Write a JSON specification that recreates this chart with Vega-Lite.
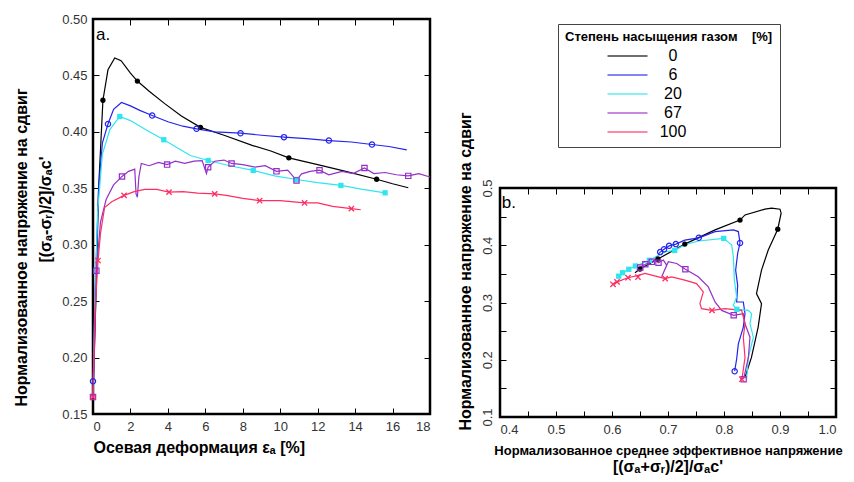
{
"$schema":"https://vega.github.io/schema/vega-lite/v6.json",
"background":"white",
"padding":{"left":11,"top":11,"right":0,"bottom":0},
"bounds":"flush",
"spacing":70,
"resolve":{"legend":{"color":"independent"}},
"config":{
 "font":"Liberation Sans",
 "axis":{"domain":false,"grid":false,"ticks":true,"tickSize":-6,"tickColor":"black","tickWidth":1,"labelFont":"Liberation Sans","labelFontSize":13,"labelColor":"#333333","labelPadding":12,"titleFont":"Liberation Sans","titleFontWeight":"bold","titleColor":"black","titleFontSize":16}
},
"datasets":{
"a":[
{"s":"0","x":0,"y":0.165},{"s":"0","x":0.15,"y":0.25},{"s":"0","x":0.3,"y":0.35},{"s":"0","x":0.53,"y":0.428},{"s":"0","x":0.8,"y":0.455},{"s":"0","x":1.16,"y":0.4655},{"s":"0","x":1.5,"y":0.463},{"s":"0","x":2.0,"y":0.452},{"s":"0","x":2.37,"y":0.445},{"s":"0","x":3.0,"y":0.436},{"s":"0","x":3.83,"y":0.425},{"s":"0","x":4.72,"y":0.414},{"s":"0","x":5.74,"y":0.404},{"s":"0","x":7.0,"y":0.397},{"s":"0","x":8.5,"y":0.388},{"s":"0","x":9.5,"y":0.383},{"s":"0","x":10.46,"y":0.377},{"s":"0","x":12.0,"y":0.371},{"s":"0","x":13.5,"y":0.365},{"s":"0","x":15.15,"y":0.358},{"s":"0","x":16.0,"y":0.354},{"s":"0","x":16.84,"y":0.3505},
{"s":"6","x":0,"y":0.179},{"s":"6","x":0.1,"y":0.25},{"s":"6","x":0.3,"y":0.35},{"s":"6","x":0.5,"y":0.39},{"s":"6","x":0.8,"y":0.407},{"s":"6","x":1.1,"y":0.42},{"s":"6","x":1.52,"y":0.426},{"s":"6","x":2.0,"y":0.423},{"s":"6","x":2.5,"y":0.419},{"s":"6","x":3.16,"y":0.4145},{"s":"6","x":4.0,"y":0.409},{"s":"6","x":4.8,"y":0.405},{"s":"6","x":5.53,"y":0.4027},{"s":"6","x":6.5,"y":0.4},{"s":"6","x":7.88,"y":0.3988},{"s":"6","x":9.0,"y":0.397},{"s":"6","x":10.2,"y":0.3953},{"s":"6","x":11.4,"y":0.394},{"s":"6","x":12.6,"y":0.3923},{"s":"6","x":13.8,"y":0.391},{"s":"6","x":14.9,"y":0.3888},{"s":"6","x":15.8,"y":0.387},{"s":"6","x":16.76,"y":0.384},
{"s":"20","x":0,"y":0.165},{"s":"20","x":0.1,"y":0.25},{"s":"20","x":0.25,"y":0.33},{"s":"20","x":0.5,"y":0.38},{"s":"20","x":0.9,"y":0.402},{"s":"20","x":1.43,"y":0.4136},{"s":"20","x":2.0,"y":0.41},{"s":"20","x":2.8,"y":0.402},{"s":"20","x":3.78,"y":0.393},{"s":"20","x":4.5,"y":0.386},{"s":"20","x":5.2,"y":0.379},{"s":"20","x":6.15,"y":0.3746},{"s":"20","x":7.3,"y":0.37},{"s":"20","x":8.56,"y":0.3658},{"s":"20","x":9.7,"y":0.361},{"s":"20","x":10.87,"y":0.3578},{"s":"20","x":12.0,"y":0.355},{"s":"20","x":13.24,"y":0.3525},{"s":"20","x":14.4,"y":0.349},{"s":"20","x":15.6,"y":0.346},
{"s":"67","x":0,"y":0.165},{"s":"67","x":0.1,"y":0.22},{"s":"67","x":0.18,"y":0.277},{"s":"67","x":0.4,"y":0.32},{"s":"67","x":0.7,"y":0.34},{"s":"67","x":1.1,"y":0.353},{"s":"67","x":1.55,"y":0.3605},{"s":"67","x":1.9,"y":0.365},{"s":"67","x":2.23,"y":0.367},{"s":"67","x":2.3,"y":0.345},{"s":"67","x":2.37,"y":0.342},{"s":"67","x":2.45,"y":0.36},{"s":"67","x":2.58,"y":0.372},{"s":"67","x":3.0,"y":0.37},{"s":"67","x":3.5,"y":0.373},{"s":"67","x":3.96,"y":0.371},{"s":"67","x":4.4,"y":0.374},{"s":"67","x":4.9,"y":0.372},{"s":"67","x":5.4,"y":0.374},{"s":"67","x":5.83,"y":0.3745},{"s":"67","x":6.06,"y":0.363},{"s":"67","x":6.15,"y":0.3687},{"s":"67","x":6.5,"y":0.374},{"s":"67","x":7.0,"y":0.375},{"s":"67","x":7.4,"y":0.372},{"s":"67","x":8.0,"y":0.371},{"s":"67","x":8.65,"y":0.3687},{"s":"67","x":9.2,"y":0.37},{"s":"67","x":9.8,"y":0.365},{"s":"67","x":10.4,"y":0.366},{"s":"67","x":10.87,"y":0.357},{"s":"67","x":11.14,"y":0.3628},{"s":"67","x":11.6,"y":0.365},{"s":"67","x":12.1,"y":0.366},{"s":"67","x":12.6,"y":0.362},{"s":"67","x":13.3,"y":0.365},{"s":"67","x":13.9,"y":0.363},{"s":"67","x":14.5,"y":0.368},{"s":"67","x":15.0,"y":0.363},{"s":"67","x":15.6,"y":0.364},{"s":"67","x":16.2,"y":0.362},{"s":"67","x":16.84,"y":0.361},{"s":"67","x":17.4,"y":0.363},{"s":"67","x":18.0,"y":0.36},
{"s":"100","x":0,"y":0.165},{"s":"100","x":0.1,"y":0.24},{"s":"100","x":0.27,"y":0.286},{"s":"100","x":0.4,"y":0.31},{"s":"100","x":0.62,"y":0.333},{"s":"100","x":1.0,"y":0.338},{"s":"100","x":1.66,"y":0.3437},{"s":"100","x":2.2,"y":0.347},{"s":"100","x":2.76,"y":0.349},{"s":"100","x":3.4,"y":0.349},{"s":"100","x":4.06,"y":0.3466},{"s":"100","x":4.8,"y":0.347},{"s":"100","x":5.6,"y":0.3457},{"s":"100","x":6.5,"y":0.345},{"s":"100","x":7.2,"y":0.3435},{"s":"100","x":8.0,"y":0.341},{"s":"100","x":8.9,"y":0.339},{"s":"100","x":10.0,"y":0.339},{"s":"100","x":11.3,"y":0.337},{"s":"100","x":12.0,"y":0.337},{"s":"100","x":12.8,"y":0.334},{"s":"100","x":13.8,"y":0.332},{"s":"100","x":14.3,"y":0.331}
],
"am":[
{"s":"0","x":0.53,"y":0.428},{"s":"0","x":2.37,"y":0.445},{"s":"0","x":5.74,"y":0.404},{"s":"0","x":10.46,"y":0.377},{"s":"0","x":15.15,"y":0.358},
{"s":"6","x":0,"y":0.179},{"s":"6","x":0.8,"y":0.407},{"s":"6","x":3.16,"y":0.4145},{"s":"6","x":5.53,"y":0.4027},{"s":"6","x":7.88,"y":0.3988},{"s":"6","x":10.2,"y":0.3953},{"s":"6","x":12.6,"y":0.3923},{"s":"6","x":14.9,"y":0.3888},
{"s":"20","x":1.43,"y":0.4136},{"s":"20","x":3.78,"y":0.393},{"s":"20","x":6.15,"y":0.3746},{"s":"20","x":8.56,"y":0.3658},{"s":"20","x":10.87,"y":0.3578},{"s":"20","x":13.24,"y":0.3525},{"s":"20","x":15.6,"y":0.346},
{"s":"67","x":0,"y":0.165},{"s":"67","x":0.18,"y":0.277},{"s":"67","x":1.55,"y":0.3605},{"s":"67","x":3.96,"y":0.371},{"s":"67","x":6.15,"y":0.3687},{"s":"67","x":7.4,"y":0.372},{"s":"67","x":9.8,"y":0.365},{"s":"67","x":10.87,"y":0.357},{"s":"67","x":12.1,"y":0.366},{"s":"67","x":14.5,"y":0.368},{"s":"67","x":16.84,"y":0.361},
{"s":"100","x":0,"y":0.165},{"s":"100","x":0.27,"y":0.286},{"s":"100","x":1.66,"y":0.3437},{"s":"100","x":4.06,"y":0.3466},{"s":"100","x":6.5,"y":0.345},{"s":"100","x":8.9,"y":0.339},{"s":"100","x":11.3,"y":0.337},{"s":"100","x":13.8,"y":0.332}
],
"b":[
{"s":"0","i":1,"x":0.8375,"y":0.169},{"s":"0","i":2,"x":0.849,"y":0.204},{"s":"0","i":3,"x":0.861,"y":0.257},{"s":"0","i":4,"x":0.867,"y":0.298},{"s":"0","i":5,"x":0.858,"y":0.3155},{"s":"0","i":6,"x":0.867,"y":0.3565},{"s":"0","i":7,"x":0.879,"y":0.3917},{"s":"0","i":8,"x":0.896,"y":0.428},{"s":"0","i":9,"x":0.902,"y":0.456},{"s":"0","i":10,"x":0.9,"y":0.463},{"s":"0","i":11,"x":0.885,"y":0.465},{"s":"0","i":12,"x":0.873,"y":0.463},{"s":"0","i":13,"x":0.8375,"y":0.453},{"s":"0","i":14,"x":0.8286,"y":0.444},{"s":"0","i":15,"x":0.784,"y":0.4268},{"s":"0","i":16,"x":0.73,"y":0.402},{"s":"0","i":17,"x":0.682,"y":0.376},{"s":"0","i":18,"x":0.65,"y":0.3585},{"s":"0","i":19,"x":0.641,"y":0.352},
{"s":"6","i":1,"x":0.819,"y":0.18},{"s":"6","i":2,"x":0.8226,"y":0.2013},{"s":"6","i":3,"x":0.8256,"y":0.2277},{"s":"6","i":4,"x":0.8345,"y":0.257},{"s":"6","i":5,"x":0.8375,"y":0.2804},{"s":"6","i":6,"x":0.8345,"y":0.3009},{"s":"6","i":7,"x":0.8226,"y":0.3009},{"s":"6","i":8,"x":0.8244,"y":0.33},{"s":"6","i":9,"x":0.8208,"y":0.3565},{"s":"6","i":10,"x":0.8244,"y":0.3858},{"s":"6","i":11,"x":0.8286,"y":0.404},{"s":"6","i":12,"x":0.8256,"y":0.4239},{"s":"6","i":13,"x":0.8167,"y":0.4268},{"s":"6","i":14,"x":0.784,"y":0.4239},{"s":"6","i":15,"x":0.755,"y":0.413},{"s":"6","i":16,"x":0.73,"y":0.409},{"s":"6","i":17,"x":0.714,"y":0.402},{"s":"6","i":18,"x":0.702,"y":0.399},{"s":"6","i":19,"x":0.693,"y":0.393},{"s":"6","i":20,"x":0.686,"y":0.388},{"s":"6","i":21,"x":0.683,"y":0.385},
{"s":"20","i":1,"x":0.8405,"y":0.1668},{"s":"20","i":2,"x":0.8435,"y":0.2043},{"s":"20","i":3,"x":0.8524,"y":0.2394},{"s":"20","i":4,"x":0.8464,"y":0.2628},{"s":"20","i":5,"x":0.8494,"y":0.2804},{"s":"20","i":6,"x":0.8435,"y":0.2862},{"s":"20","i":7,"x":0.823,"y":0.288},{"s":"20","i":8,"x":0.8167,"y":0.295},{"s":"20","i":9,"x":0.8226,"y":0.3097},{"s":"20","i":10,"x":0.8185,"y":0.339},{"s":"20","i":11,"x":0.8167,"y":0.38},{"s":"20","i":12,"x":0.8137,"y":0.4004},{"s":"20","i":13,"x":0.7995,"y":0.412},{"s":"20","i":14,"x":0.755,"y":0.4074},{"s":"20","i":15,"x":0.73,"y":0.401},{"s":"20","i":16,"x":0.712,"y":0.391},{"s":"20","i":17,"x":0.695,"y":0.3887},{"s":"20","i":18,"x":0.6667,"y":0.3737},{"s":"20","i":19,"x":0.653,"y":0.3682},{"s":"20","i":20,"x":0.6417,"y":0.3638},{"s":"20","i":21,"x":0.63,"y":0.358},{"s":"20","i":22,"x":0.619,"y":0.352},{"s":"20","i":23,"x":0.612,"y":0.346},
{"s":"67","i":1,"x":0.835,"y":0.166},{"s":"67","i":2,"x":0.8435,"y":0.204},{"s":"67","i":3,"x":0.8464,"y":0.2394},{"s":"67","i":4,"x":0.8375,"y":0.2628},{"s":"67","i":5,"x":0.8345,"y":0.2804},{"s":"67","i":6,"x":0.8173,"y":0.2776},{"s":"67","i":7,"x":0.7958,"y":0.2862},{"s":"67","i":8,"x":0.784,"y":0.3009},{"s":"67","i":9,"x":0.772,"y":0.3272},{"s":"67","i":10,"x":0.754,"y":0.3448},{"s":"67","i":11,"x":0.731,"y":0.358},{"s":"67","i":12,"x":0.7155,"y":0.3682},{"s":"67","i":13,"x":0.7006,"y":0.3712},{"s":"67","i":14,"x":0.6887,"y":0.3448},{"s":"67","i":15,"x":0.6976,"y":0.3653},{"s":"67","i":16,"x":0.6917,"y":0.3741},{"s":"67","i":17,"x":0.683,"y":0.3695},{"s":"67","i":18,"x":0.6768,"y":0.3741},{"s":"67","i":19,"x":0.671,"y":0.371},{"s":"67","i":20,"x":0.6595,"y":0.3667},{"s":"67","i":21,"x":0.6505,"y":0.361},{"s":"67","i":22,"x":0.644,"y":0.3565},
{"s":"100","i":1,"x":0.832,"y":0.166},{"s":"100","i":2,"x":0.8375,"y":0.204},{"s":"100","i":3,"x":0.8345,"y":0.2394},{"s":"100","i":4,"x":0.8375,"y":0.2628},{"s":"100","i":5,"x":0.8315,"y":0.2862},{"s":"100","i":6,"x":0.8018,"y":0.2892},{"s":"100","i":7,"x":0.7786,"y":0.2864},{"s":"100","i":8,"x":0.76,"y":0.2892},{"s":"100","i":9,"x":0.757,"y":0.298},{"s":"100","i":10,"x":0.763,"y":0.3185},{"s":"100","i":11,"x":0.751,"y":0.3331},{"s":"100","i":12,"x":0.73,"y":0.339},{"s":"100","i":13,"x":0.7065,"y":0.3448},{"s":"100","i":14,"x":0.695,"y":0.3416},{"s":"100","i":15,"x":0.683,"y":0.3448},{"s":"100","i":16,"x":0.659,"y":0.3507},{"s":"100","i":17,"x":0.647,"y":0.3475},{"s":"100","i":18,"x":0.6286,"y":0.3433},{"s":"100","i":19,"x":0.609,"y":0.336},{"s":"100","i":20,"x":0.6018,"y":0.3318}
],
"bm":[
{"s":"0","x":0.896,"y":0.428},{"s":"0","x":0.8286,"y":0.444},{"s":"0","x":0.73,"y":0.402},{"s":"0","x":0.682,"y":0.376},{"s":"0","x":0.65,"y":0.3585},
{"s":"6","x":0.819,"y":0.18},{"s":"6","x":0.8286,"y":0.404},{"s":"6","x":0.755,"y":0.413},{"s":"6","x":0.714,"y":0.402},{"s":"6","x":0.702,"y":0.399},{"s":"6","x":0.693,"y":0.393},{"s":"6","x":0.686,"y":0.388},
{"s":"20","x":0.823,"y":0.288},{"s":"20","x":0.7995,"y":0.412},{"s":"20","x":0.712,"y":0.391},{"s":"20","x":0.6667,"y":0.3737},{"s":"20","x":0.6417,"y":0.3638},{"s":"20","x":0.63,"y":0.358},{"s":"20","x":0.619,"y":0.352},{"s":"20","x":0.612,"y":0.346},
{"s":"67","x":0.835,"y":0.166},{"s":"67","x":0.8173,"y":0.2776},{"s":"67","x":0.731,"y":0.358},{"s":"67","x":0.683,"y":0.3695},{"s":"67","x":0.671,"y":0.371},{"s":"67","x":0.6595,"y":0.3667},{"s":"67","x":0.6505,"y":0.361},
{"s":"100","x":0.832,"y":0.166},{"s":"100","x":0.7786,"y":0.2864},{"s":"100","x":0.695,"y":0.3416},{"s":"100","x":0.6464,"y":0.3445},{"s":"100","x":0.6286,"y":0.3433},{"s":"100","x":0.609,"y":0.336},{"s":"100","x":0.6018,"y":0.3318}
]
},
"hconcat":[
{
 "width":337,"height":395,
 "view":{"stroke":"black","strokeWidth":2.5},
 "resolve":{"axis":{"x":"independent","y":"independent"}},
 "layer":[
  {
   "data":{"name":"a"},
   "mark":{"type":"line","strokeWidth":1.2},
   "encoding":{
    "x":{"field":"x","type":"quantitative","scale":{"domain":[0,18],"nice":false},"axis":{"orient":"bottom","values":[0,2,4,6,8,10,12,14,16,18],"format":"d","title":"Осевая деформация  εₐ [%]","titleAnchor":"start","titlePadding":6}},
    "y":{"field":"y","type":"quantitative","scale":{"domain":[0.15,0.5],"nice":false,"zero":false},"axis":{"orient":"left","values":[0.15,0.2,0.25,0.3,0.35,0.4,0.45,0.5],"format":".2f","title":"[(σₐ-σᵣ)/2]/σₐc'","titlePadding":8,"titleY":190}},
    "color":{"field":"s","type":"nominal","scale":{"domain":["0","6","20","67","100"],"range":["#000000","#2323ee","#2ee6f0","#9430c8","#ff2d62"]},"legend":null}
   }
  },
  {
   "data":{"name":"am"},
   "transform":[{"filter":"datum.s == '0'"}],
   "mark":{"type":"point","shape":"circle","filled":true,"size":28,"opacity":1},
   "encoding":{
    "x":{"field":"x","type":"quantitative","scale":{"domain":[0,18],"nice":false},"axis":{"orient":"top","labels":false,"title":null,"values":[0,2,4,6,8,10,12,14,16,18]}},
    "y":{"field":"y","type":"quantitative","scale":{"domain":[0.15,0.5],"nice":false,"zero":false},"axis":{"orient":"right","labels":false,"title":null,"values":[0.15,0.2,0.25,0.3,0.35,0.4,0.45,0.5]}},
    "color":{"field":"s","type":"nominal","legend":null}
   }
  },
  {
   "data":{"name":"am"},
   "transform":[{"filter":"datum.s == '6'"}],
   "mark":{"type":"point","shape":"circle","filled":false,"size":28,"strokeWidth":1.2,"opacity":1},
   "encoding":{
    "x":{"field":"x","type":"quantitative","scale":{"domain":[0,18],"nice":false},"axis":null},
    "y":{"field":"y","type":"quantitative","scale":{"domain":[0.15,0.5],"nice":false,"zero":false},"axis":{"orient":"left","labels":false,"ticks":false,"domain":false,"title":"Нормализованное напряжение на сдвиг","titleFontSize":16,"titleX":-64,"titleY":228}},
    "color":{"field":"s","type":"nominal","legend":null}
   }
  },
  {
   "data":{"name":"am"},
   "transform":[{"filter":"datum.s == '20'"}],
   "mark":{"type":"point","shape":"square","filled":true,"size":28,"opacity":1},
   "encoding":{
    "x":{"field":"x","type":"quantitative","scale":{"domain":[0,18],"nice":false},"axis":null},
    "y":{"field":"y","type":"quantitative","scale":{"domain":[0.15,0.5],"nice":false,"zero":false},"axis":null},
    "color":{"field":"s","type":"nominal","legend":null}
   }
  },
  {
   "data":{"name":"am"},
   "transform":[{"filter":"datum.s == '67'"}],
   "mark":{"type":"point","shape":"square","filled":false,"size":28,"strokeWidth":1.2,"opacity":1},
   "encoding":{
    "x":{"field":"x","type":"quantitative","scale":{"domain":[0,18],"nice":false},"axis":null},
    "y":{"field":"y","type":"quantitative","scale":{"domain":[0.15,0.5],"nice":false,"zero":false},"axis":null},
    "color":{"field":"s","type":"nominal","legend":null}
   }
  },
  {
   "data":{"name":"am"},
   "transform":[{"filter":"datum.s == '100'"}],
   "mark":{"type":"point","shape":"M-1,-1L1,1M-1,1L1,-1","filled":false,"size":28,"strokeWidth":1.3,"opacity":1},
   "encoding":{
    "x":{"field":"x","type":"quantitative","scale":{"domain":[0,18],"nice":false},"axis":null},
    "y":{"field":"y","type":"quantitative","scale":{"domain":[0.15,0.5],"nice":false,"zero":false},"axis":null},
    "color":{"field":"s","type":"nominal","legend":null}
   }
  },
  {
   "data":{"values":[{"t":"a."}]},
   "mark":{"type":"text","align":"left","baseline":"middle","fontSize":17,"font":"Liberation Sans","color":"black"},
   "encoding":{
    "x":{"datum":0.16,"type":"quantitative","scale":{"domain":[0,18],"nice":false},"axis":null},
    "y":{"datum":0.486,"type":"quantitative","scale":{"domain":[0.15,0.5],"nice":false,"zero":false},"axis":null},
    "text":{"field":"t"}
   }
  }
 ]
},
{
 "bounds":"flush",
 "spacing":19,
 "resolve":{"legend":{"color":"independent"}},
 "vconcat":[
  {
   "width":336,"height":150,
   "view":{"stroke":null},
   "data":{"values":[]},
   "mark":"point",
   "encoding":{}
  },
  {
   "width":336,"height":229,
   "view":{"stroke":"black","strokeWidth":2.5},
   "title":{"text":"[(σₐ+σᵣ)/2]/σₐc'","orient":"bottom","font":"Liberation Sans","fontSize":16,"fontWeight":"bold","color":"black","offset":2,"anchor":"middle"},
   "resolve":{"axis":{"x":"independent","y":"independent"}},
   "layer":[
    {
     "data":{"name":"b"},
     "mark":{"type":"line","strokeWidth":1.2},
     "encoding":{
      "x":{"field":"x","type":"quantitative","scale":{"domain":[0.4,1.0],"nice":false,"zero":false},"axis":{"orient":"bottom","values":[0.4,0.45,0.5,0.55,0.6,0.65,0.7,0.75,0.8,0.85,0.9,0.95,1.0],"labelExpr":"round(datum.value*100) % 10 == 0 ? format(datum.value, '.1f') : ''","title":"Нормализованное среднее эффективное напряжение","titleFontSize":13,"titlePadding":8}},
      "y":{"field":"y","type":"quantitative","scale":{"domain":[0.1,0.5],"nice":false,"zero":false},"axis":{"orient":"left","values":[0.1,0.15,0.2,0.25,0.3,0.35,0.4,0.45,0.5],"labelExpr":"round(datum.value*100) % 10 == 0 ? format(datum.value, '.1f') : ''","labelAngle":270,"labelAlign":"center","labelBaseline":"bottom","title":"Нормализованное напряжение на сдвиг","titlePadding":8,"titleY":83}},
      "order":{"field":"i","type":"quantitative"},
      "color":{"field":"s","type":"nominal","scale":{"domain":["0","6","20","67","100"],"range":["#000000","#2323ee","#2ee6f0","#9430c8","#ff2d62"]},
       "legend":{"orient":"none","legendX":58,"legendY":-164,"title":"Степень насыщения газом\u00a0\u00a0\u00a0\u00a0[%]","titleLimit":400,"titleFont":"Liberation Sans","titleFontSize":13,"titleFontWeight":"bold","titleColor":"black","titlePadding":1,"labelFont":"Liberation Sans","labelFontSize":16,"labelColor":"black","labelAlign":"center","labelOffset":34.5,"symbolType":"M-2,0L2,0","symbolSize":400,"symbolStrokeWidth":1.5,"symbolOpacity":0.75,"symbolOffset":51.5,"rowPadding":0,"strokeColor":"#444444","padding":7,"fillColor":"white",
        "encode":{"symbols":{"update":{"fill":{"value":"transparent"},"stroke":{"scale":"color","field":"value"}}}}}}
     }
    },
    {
     "data":{"name":"bm"},
     "transform":[{"filter":"datum.s == '0'"}],
     "mark":{"type":"point","shape":"circle","filled":true,"size":28,"opacity":1},
     "encoding":{
      "x":{"field":"x","type":"quantitative","scale":{"domain":[0.4,1.0],"nice":false,"zero":false},"axis":{"orient":"top","labels":false,"title":null,"values":[0.4,0.45,0.5,0.55,0.6,0.65,0.7,0.75,0.8,0.85,0.9,0.95,1.0]}},
      "y":{"field":"y","type":"quantitative","scale":{"domain":[0.1,0.5],"nice":false,"zero":false},"axis":{"orient":"right","labels":false,"title":null,"values":[0.1,0.15,0.2,0.25,0.3,0.35,0.4,0.45,0.5]}},
      "color":{"field":"s","type":"nominal","legend":null}
     }
    },
    {
     "data":{"name":"bm"},
     "transform":[{"filter":"datum.s == '6'"}],
     "mark":{"type":"point","shape":"circle","filled":false,"size":28,"strokeWidth":1.2,"opacity":1},
     "encoding":{
      "x":{"field":"x","type":"quantitative","scale":{"domain":[0.4,1.0],"nice":false,"zero":false},"axis":null},
      "y":{"field":"y","type":"quantitative","scale":{"domain":[0.1,0.5],"nice":false,"zero":false},"axis":null},
      "color":{"field":"s","type":"nominal","legend":null}
     }
    },
    {
     "data":{"name":"bm"},
     "transform":[{"filter":"datum.s == '20'"}],
     "mark":{"type":"point","shape":"square","filled":true,"size":28,"opacity":1},
     "encoding":{
      "x":{"field":"x","type":"quantitative","scale":{"domain":[0.4,1.0],"nice":false,"zero":false},"axis":null},
      "y":{"field":"y","type":"quantitative","scale":{"domain":[0.1,0.5],"nice":false,"zero":false},"axis":null},
      "color":{"field":"s","type":"nominal","legend":null}
     }
    },
    {
     "data":{"name":"bm"},
     "transform":[{"filter":"datum.s == '67'"}],
     "mark":{"type":"point","shape":"square","filled":false,"size":28,"strokeWidth":1.2,"opacity":1},
     "encoding":{
      "x":{"field":"x","type":"quantitative","scale":{"domain":[0.4,1.0],"nice":false,"zero":false},"axis":null},
      "y":{"field":"y","type":"quantitative","scale":{"domain":[0.1,0.5],"nice":false,"zero":false},"axis":null},
      "color":{"field":"s","type":"nominal","legend":null}
     }
    },
    {
     "data":{"name":"bm"},
     "transform":[{"filter":"datum.s == '100'"}],
     "mark":{"type":"point","shape":"M-1,-1L1,1M-1,1L1,-1","filled":false,"size":28,"strokeWidth":1.3,"opacity":1},
     "encoding":{
      "x":{"field":"x","type":"quantitative","scale":{"domain":[0.4,1.0],"nice":false,"zero":false},"axis":null},
      "y":{"field":"y","type":"quantitative","scale":{"domain":[0.1,0.5],"nice":false,"zero":false},"axis":null},
      "color":{"field":"s","type":"nominal","legend":null}
     }
    },
    {
     "data":{"values":[{"t":"b."}]},
     "mark":{"type":"text","align":"left","baseline":"middle","fontSize":17,"font":"Liberation Sans","color":"black"},
     "encoding":{
      "x":{"datum":0.403,"type":"quantitative","scale":{"domain":[0.4,1.0],"nice":false,"zero":false},"axis":null},
      "y":{"datum":0.474,"type":"quantitative","scale":{"domain":[0.1,0.5],"nice":false,"zero":false},"axis":null},
      "text":{"field":"t"}
     }
    }
   ]
  }
 ]
}
]
}
